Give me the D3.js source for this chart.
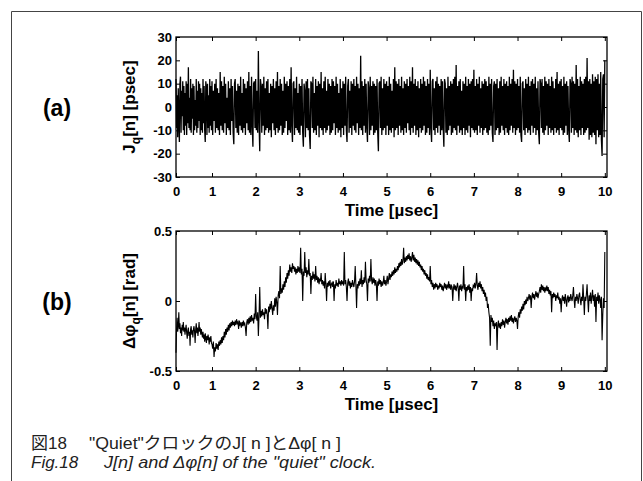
<!DOCTYPE html>
<html>
<head>
<meta charset="utf-8">
<script src="https://cdn.jsdelivr.net/npm/d3@7"></script>
<style>
  body { margin: 0; background: #fff; }
  svg { display: block; }
  .tick text { font-family: "Liberation Sans", Arial, sans-serif; font-weight: bold; font-size: 13px; fill: #000; }
  .tick line { stroke: #000; }
  .axis-title { font-family: "Liberation Sans", Arial, sans-serif; font-weight: bold; font-size: 17px; fill: #000; }
  .panel-tag { font-family: "Liberation Sans", Arial, sans-serif; font-weight: bold; font-size: 23px; fill: #000; }
  .caption { font-family: "Liberation Sans", "Noto Sans CJK JP", sans-serif; font-size: 17px; fill: #222; }
</style>
</head>
<body>
<svg id="chart" width="643" height="481"></svg>
<script>
// sample period of both traces (µsec), 641 samples from 0 to 10 µsec
const sampleStep = 1 / 64;

// tick values
const timeTicks = [0, 1, 2, 3, 4, 5, 6, 7, 8, 9, 10];
const jitterTicks = [-30, -20, -10, 0, 10, 20, 30];
const phaseTicks = [-0.5, 0, 0.5];

// (a) J_q[n] in psec (16 samples = 0.25 µsec per row)
const jitterValues = [
  12, -9, 5, -13, 8, -6, -15, 10, 13, -11, 7, -4, 11, -10, 9, -12,
  6, -8, 11, -12, 10, -7, 17, -9, 4, -10, 12, -11, 8, -5, 10, -12,
  9, -10, 3, -8, 12, -11, 7, -9, 11, -6, 10, -12, 8, -10, 6, -11,
  12, -7, 9, -10, -15, 11, 8, -12, 10, -9, 5, -11, 12, -8, 9, -10,
  11, -12, 7, -6, 10, -11, 12, -9, 8, -10, 6, -12, 15, -8, 11, -10,
  9, -11, 13, -7, 10, -12, 4, -9, 11, -10, 8, -12, 12, -6, 9, -11,
  -16, 10, 12, -9, 7, -11, 10, -12, 9, -8, 13, -10, 6, -11, 12, -9,
  10, -12, 8, -7, 11, -10, 15, -11, 9, -12, 13, -8, -17, 10, 11, -9,
  12, -10, 7, -11, 24, -6, -19, 12, 9, -11, 10, -8, 13, -12, 8, -10,
  11, -9, 12, -11, 6, -10, 10, -13, 9, -7, 12, -10, 8, -12, 11, -9,
  15, -11, 9, -10, 12, -8, 10, -12, 7, -11, 13, -9, 10, -6, 11, -12,
  9, -10, 12, -11, 17, -8, -15, 10, 11, -12, 8, -9, 13, -10, 6, -11,
  10, -12, 9, -8, 12, -11, -17, 10, 7, -13, 11, -9, 12, -10, 8, -12,
  -18, 11, 10, -9, 13, -11, 6, -10, 12, -12, 9, -8, 11, -13, 10, -9,
  15, -10, 8, -12, 11, -9, 13, -11, 7, -10, 12, -8, 10, -12, 9, -11,
  12, -10, 11, -7, 9, -12, 13, -9, 10, -11, 6, -10, 12, -13, 8, -9,
  11, -12, 10, -8, 13, -10, -15, 9, 12, -11, 7, -9, 11, -12, 10, -8,
  12, -10, 9, -11, 13, -7, 10, -12, 8, -9, 22, -10, 11, -12, 9, -8,
  12, -11, 10, -9, -15, 11, 8, -12, 13, -10, 9, -8, 11, -12, 10, -11,
  9, -10, 12, -11, -19, 10, 11, -9, 13, -12, 8, -10, 12, -9, 10, -12,
  11, -8, 9, -12, 13, -10, 10, -11, 7, -9, 12, -13, 17, -10, 11, -9,
  10, -12, 12, -8, 9, -11, 13, -10, 8, -12, 11, -9, 10, -11, 12, -7,
  9, -10, 13, -12, 11, -9, 17, -11, 10, -8, 12, -12, 9, -10, 11, -13,
  8, -9, 12, -11, 10, -10, 13, -8, 11, -12, 9, -11, 12, -9, 10, -12,
  16, -9, -15, 11, 12, -10, 8, -12, 11, -9, 13, -11, 10, -8, 9, -12,
  12, -10, 11, -9, -17, 12, 10, -11, 8, -12, 13, -10, 9, -8, 11, -12,
  10, -11, 12, -9, 13, -10, 18, -12, 9, -8, 11, -11, 12, -10, 7, -12,
  11, -9, 10, -12, 13, -10, 9, -11, 12, -8, 10, -13, 11, -9, 12, -10,
  16, -11, 9, -10, 12, -12, 10, -8, 13, -11, 8, -9, 11, -12, 10, -10,
  12, -9, 11, -11, 9, -12, 13, -10, 10, -8, 12, -11, -15, 9, 11, -12,
  10, -10, 12, -9, 8, -12, 11, -11, 13, -8, 9, -10, 12, -12, 10, -9,
  11, -11, 9, -12, 13, -10, 10, -8, 12, -11, 16, -9, 11, -12, 10, -10,
  12, -9, 9, -11, 13, -12, -15, 10, 11, -10, 8, -12, 12, -9, 10, -11,
  13, -10, 9, -12, 11, -8, 12, -11, 10, -9, 13, -12, 8, -10, 11, -11,
  -16, 12, 10, -9, 12, -11, 9, -12, 13, -10, 11, -8, 10, -12, 12, -9,
  9, -11, 13, -10, 11, -12, 8, -9, 12, -11, 15, -10, 10, -12, 11, -9,
  12, -10, 9, -12, 13, -11, 10, -8, 11, -12, 9, -10, -15, 12, 10, -11,
  13, -9, 11, -12, 10, -10, 18, -11, 12, -13, 9, -10, 13, -12, 11, -9,
  10, -12, 12, -11, 13, -10, 21, -9, 11, -14, 12, -12, 10, -13, 14, -11,
  11, -12, 13, -16, 12, -10, 14, -13, 10, -12, 15, -14, -21, 12, 14, -13,
  20
];

// (b) Δφ_q[n] in rad (16 samples = 0.25 µsec per row)
const phaseValues = [
  -0.37, -0.2, -0.12, -0.22, -0.18, -0.08, -0.2, -0.16, -0.23, -0.19, -0.25, -0.17, -0.21, -0.15, -0.22, -0.19,
  -0.24, -0.2, -0.17, -0.23, -0.27, -0.21, -0.19, -0.25, -0.22, -0.32, -0.2, -0.18, -0.24, -0.21, -0.26, -0.2,
  -0.18, -0.22, -0.3, -0.2, -0.16, -0.23, -0.19, -0.25, -0.21, -0.15, -0.22, -0.19, -0.24, -0.2, -0.23, -0.26,
  -0.22, -0.27, -0.24, -0.29, -0.23, -0.26, -0.3, -0.25, -0.28, -0.24, -0.27, -0.31, -0.26, -0.29, -0.25, -0.3,
  -0.31, -0.34, -0.29, -0.4, -0.33, -0.36, -0.3, -0.34, -0.31, -0.35, -0.29, -0.32, -0.28, -0.31, -0.26, -0.3,
  -0.25, -0.28, -0.22, -0.26, -0.2, -0.24, -0.19, -0.22, -0.17, -0.21, -0.16, -0.19, -0.15, -0.18, -0.14, -0.17,
  -0.15, -0.18, -0.14, -0.17, -0.13, -0.16, -0.15, -0.2, -0.14, -0.17, -0.16, -0.19, -0.15, -0.18, -0.14, -0.17,
  -0.16, -0.19, -0.25, -0.15, -0.13, -0.17, -0.12, -0.16, -0.11, -0.15, -0.1, -0.14, -0.12, -0.16, -0.09, -0.13,
  0.05, -0.11, -0.14, -0.08, -0.25, -0.1, 0.1, -0.12, -0.07, -0.11, -0.06, -0.1, -0.08, -0.13, -0.05, -0.09,
  -0.06, -0.1, -0.2, -0.04, -0.08, -0.02, -0.06, 0.0, -0.05, -0.1, -0.03, -0.07, 0.02, -0.04, 0.03, -0.01,
  -0.1, 0.04, 0.07, 0.02, 0.25, 0.05, 0.09, 0.06, 0.12, 0.08, 0.14, 0.1, 0.17, 0.13, 0.2, 0.16,
  0.22, 0.18, 0.26, 0.21, 0.24, 0.2, 0.27, 0.23, 0.25, 0.21, 0.24, 0.19, 0.23, 0.2, 0.25, 0.21,
  0.24, 0.2, 0.38, 0.19, 0.23, 0.0, 0.21, 0.18, 0.35, 0.2, 0.24, 0.17, 0.22, 0.19, 0.3, 0.18,
  0.2, 0.05, 0.18, 0.15, 0.21, 0.16, 0.19, 0.14, 0.25, 0.15, 0.18, 0.13, 0.17, 0.12, 0.16, 0.14,
  0.2, 0.12, 0.15, 0.11, 0.14, 0.09, 0.2, 0.12, 0.0, 0.13, 0.1, 0.14, 0.11, 0.15, 0.09, 0.12,
  0.13, 0.1, 0.14, 0.0, 0.12, 0.09, 0.15, 0.11, 0.13, 0.1, 0.16, 0.12, 0.14, 0.11, 0.15, 0.12,
  0.14, 0.11, 0.35, 0.12, 0.15, 0.1, 0.0, 0.13, 0.16, 0.11, 0.14, 0.09, 0.13, 0.1, 0.15, 0.12,
  0.1, 0.14, 0.25, 0.11, -0.05, 0.12, 0.09, 0.14, 0.11, 0.16, 0.12, 0.22, 0.1, 0.15, 0.12, 0.17,
  0.13, 0.28, 0.15, 0.12, 0.0, 0.16, 0.13, 0.18, 0.14, 0.3, 0.15, 0.12, 0.17, 0.13, 0.16, 0.11,
  0.15, 0.12, 0.0, 0.14, 0.11, 0.16, 0.12, 0.15, 0.1, 0.14, 0.11, 0.13, 0.18, 0.12, 0.15, 0.11,
  0.14, 0.18, 0.12, 0.16, 0.2, 0.15, 0.19, 0.17, 0.21, 0.18, 0.22, 0.19, 0.24, 0.2, 0.23, 0.21,
  0.25, 0.22, 0.27, 0.24, 0.28, 0.25, 0.3, 0.26, 0.29, 0.38, 0.27, 0.31, 0.28, 0.32, 0.29, 0.33,
  0.3, 0.34, 0.29, 0.32, 0.28, 0.31, 0.35, 0.29, 0.33, 0.28, 0.31, 0.27, 0.3, 0.26, 0.29, 0.25,
  0.28, 0.24, 0.26, 0.22, 0.25, 0.21, 0.23, 0.19, 0.22, 0.18, 0.2, 0.16, 0.19, 0.15, 0.17, 0.14,
  0.25, 0.12, 0.15, 0.1, 0.13, 0.08, 0.12, 0.09, 0.13, 0.1, 0.12, 0.08, 0.11, 0.09, 0.13, 0.1,
  0.12, 0.08, 0.11, 0.07, 0.1, 0.13, 0.09, 0.12, 0.08, 0.11, 0.1, 0.14, 0.09, 0.12, 0.08, 0.11,
  0.1, 0.0, 0.09, 0.12, 0.08, 0.11, 0.07, 0.1, 0.13, 0.09, 0.0, 0.11, 0.08, 0.12, 0.07, 0.1,
  0.09, 0.25, 0.08, 0.12, 0.0, 0.1, 0.07, 0.11, 0.08, 0.12, 0.06, 0.1, 0.0, 0.09, 0.07, 0.11,
  0.1, 0.13, 0.09, 0.12, 0.2, 0.11, 0.08, 0.13, 0.1, 0.14, 0.09, 0.12, 0.07, 0.1, 0.05, 0.08,
  0.03, 0.06, 0.0, 0.03, -0.05, -0.02, -0.08, -0.12, -0.32, -0.1, -0.15, -0.12, -0.18, -0.14, -0.2, -0.16,
  -0.18, -0.15, -0.35, -0.17, -0.14, -0.19, -0.16, -0.2, -0.15, -0.18, -0.13, -0.17, -0.14, -0.19, -0.15, -0.12,
  -0.16, -0.13, -0.17, -0.12, -0.15, -0.11, -0.14, -0.1, -0.15, -0.12, -0.16, -0.13, -0.11, -0.15, -0.12, -0.14,
  -0.2, -0.11, -0.08, -0.12, -0.06, -0.09, -0.04, -0.07, -0.02, -0.06, 0.0, -0.03, 0.01, -0.02, 0.03, 0.0,
  0.02, 0.05, 0.01, 0.04, -0.05, 0.03, 0.06, 0.02, 0.05, 0.01, 0.04, 0.07, 0.03, 0.06, 0.02, 0.05,
  0.07, 0.1, 0.06, 0.12, 0.08, 0.11, 0.07, 0.1, 0.06, 0.09, 0.08, 0.11, 0.07, 0.1, 0.05, 0.08,
  0.04, 0.07, -0.08, 0.05, 0.02, 0.06, 0.03, 0.05, 0.0, 0.04, 0.02, 0.06, 0.01, 0.03, -0.02, 0.02,
  -0.08, 0.01, 0.04, 0.0, 0.03, -0.02, 0.05, 0.01, -0.04, 0.02, 0.04, -0.01, 0.03, 0.0, 0.05, 0.02,
  0.0, 0.04, 0.1, 0.01, -0.05, 0.03, 0.0, 0.05, 0.02, -0.02, 0.04, 0.06, 0.01, -0.03, 0.03, 0.0,
  0.12, 0.02, -0.1, 0.03, 0.0, 0.05, 0.12, 0.01, -0.08, 0.04, 0.0, 0.06, -0.02, 0.03, 0.08, 0.0,
  0.04, -0.04, 0.05, -0.15, 0.03, 0.0, 0.06, -0.02, 0.04, 0.01, -0.05, 0.03, -0.28, -0.1, 0.02, -0.05,
  0.35
];

const svg = d3.select("#chart");

// outer frame of the figure
svg.append("path")
  .attr("d", "M11.5,481 V11.5 H641.5 V481")
  .attr("fill", "none")
  .attr("stroke", "#444")
  .attr("stroke-width", 1);

// the scanned time axis is a bit squeezed between 0 and 1, so a polylinear scale
const timeDomain = [0, 1, 10.05];
const timeRange = [176, 212, 607];

function drawPanel(cfg) {
  const g = svg.append("g");
  const x = d3.scaleLinear().domain(timeDomain).range(timeRange);
  const y = d3.scaleLinear().domain(cfg.yDomain).range([cfg.bottom, cfg.top]);
  const left = timeRange[0], right = timeRange[timeRange.length - 1];

  // the trace
  const line = d3.line()
    .x((d, i) => x(i * sampleStep))
    .y(d => y(d));
  g.append("path")
    .datum(cfg.values)
    .attr("d", line)
    .attr("fill", "none")
    .attr("stroke", cfg.lineColor)
    .attr("stroke-width", cfg.lineWidth);

  // inward ticks on all four sides, labels only left and bottom
  const fmt = d => String(d);
  g.append("g").attr("transform", `translate(0,${cfg.bottom})`)
    .call(d3.axisBottom(x).tickValues(timeTicks).tickSizeInner(-4).tickSizeOuter(0).tickPadding(10).tickFormat(fmt));
  g.append("g").attr("transform", `translate(0,${cfg.top})`)
    .call(d3.axisTop(x).tickValues(timeTicks).tickSizeInner(-4).tickSizeOuter(0).tickFormat(""));
  g.append("g").attr("transform", `translate(${left},0)`)
    .call(d3.axisLeft(y).tickValues(cfg.ticks).tickSizeInner(-4).tickSizeOuter(0).tickPadding(4).tickFormat(fmt));
  g.append("g").attr("transform", `translate(${right},0)`)
    .call(d3.axisRight(y).tickValues(cfg.ticks).tickSizeInner(-4).tickSizeOuter(0).tickFormat(""));
  g.selectAll(".domain").remove();

  // axes box
  g.append("rect")
    .attr("x", left)
    .attr("y", cfg.top)
    .attr("width", right - left)
    .attr("height", cfg.bottom - cfg.top)
    .attr("fill", "none")
    .attr("stroke", "#000")
    .attr("stroke-width", 1.3);

  // x title
  g.append("text")
    .attr("class", "axis-title")
    .attr("x", (left + right) / 2)
    .attr("y", cfg.bottom + 39)
    .attr("text-anchor", "middle")
    .text("Time [µsec]");

  // y title with subscript q
  const yt = g.append("text")
    .attr("class", "axis-title")
    .attr("text-anchor", "middle")
    .attr("transform", `translate(135,${(cfg.top + cfg.bottom) / 2}) rotate(-90)`);
  yt.append("tspan").text(cfg.yName);
  yt.append("tspan").attr("dy", 5).style("font-size", "12px").text("q");
  yt.append("tspan").attr("dy", -5).text(cfg.yRest);

  // panel tag
  g.append("text")
    .attr("class", "panel-tag")
    .attr("x", 57)
    .attr("y", (cfg.top + cfg.bottom) / 2 + 9)
    .attr("text-anchor", "middle")
    .text(cfg.tag);
}

drawPanel({
  values: jitterValues, yDomain: [-30, 30], ticks: jitterTicks,
  top: 37, bottom: 177, lineWidth: 1.3, lineColor: "#000",
  yName: "J", yRest: "[n] [psec]", tag: "(a)"
});

drawPanel({
  values: phaseValues, yDomain: [-0.5, 0.5], ticks: phaseTicks,
  top: 231, bottom: 371, lineWidth: 1.1, lineColor: "#000",
  yName: "Δφ", yRest: "[n] [rad]", tag: "(b)"
});

// caption, two lines
function captionPart(x, y, str, len, italic) {
  const t = svg.append("text")
    .attr("class", "caption")
    .attr("x", x)
    .attr("y", y)
    .style("font-style", italic ? "italic" : "normal")
    .text(str);
  if (len) t.attr("textLength", len).attr("lengthAdjust", "spacingAndGlyphs");
}
captionPart(31, 449, "図18", 0, false);
captionPart(89, 449, "\"Quiet\"クロックのJ[ n ]とΔφ[ n ]", 252, false);
captionPart(31, 468, "Fig.18", 0, true);
captionPart(104, 468, "J[n] and Δφ[n] of the \"quiet\" clock.", 272, true);
</script>
</body>
</html>
